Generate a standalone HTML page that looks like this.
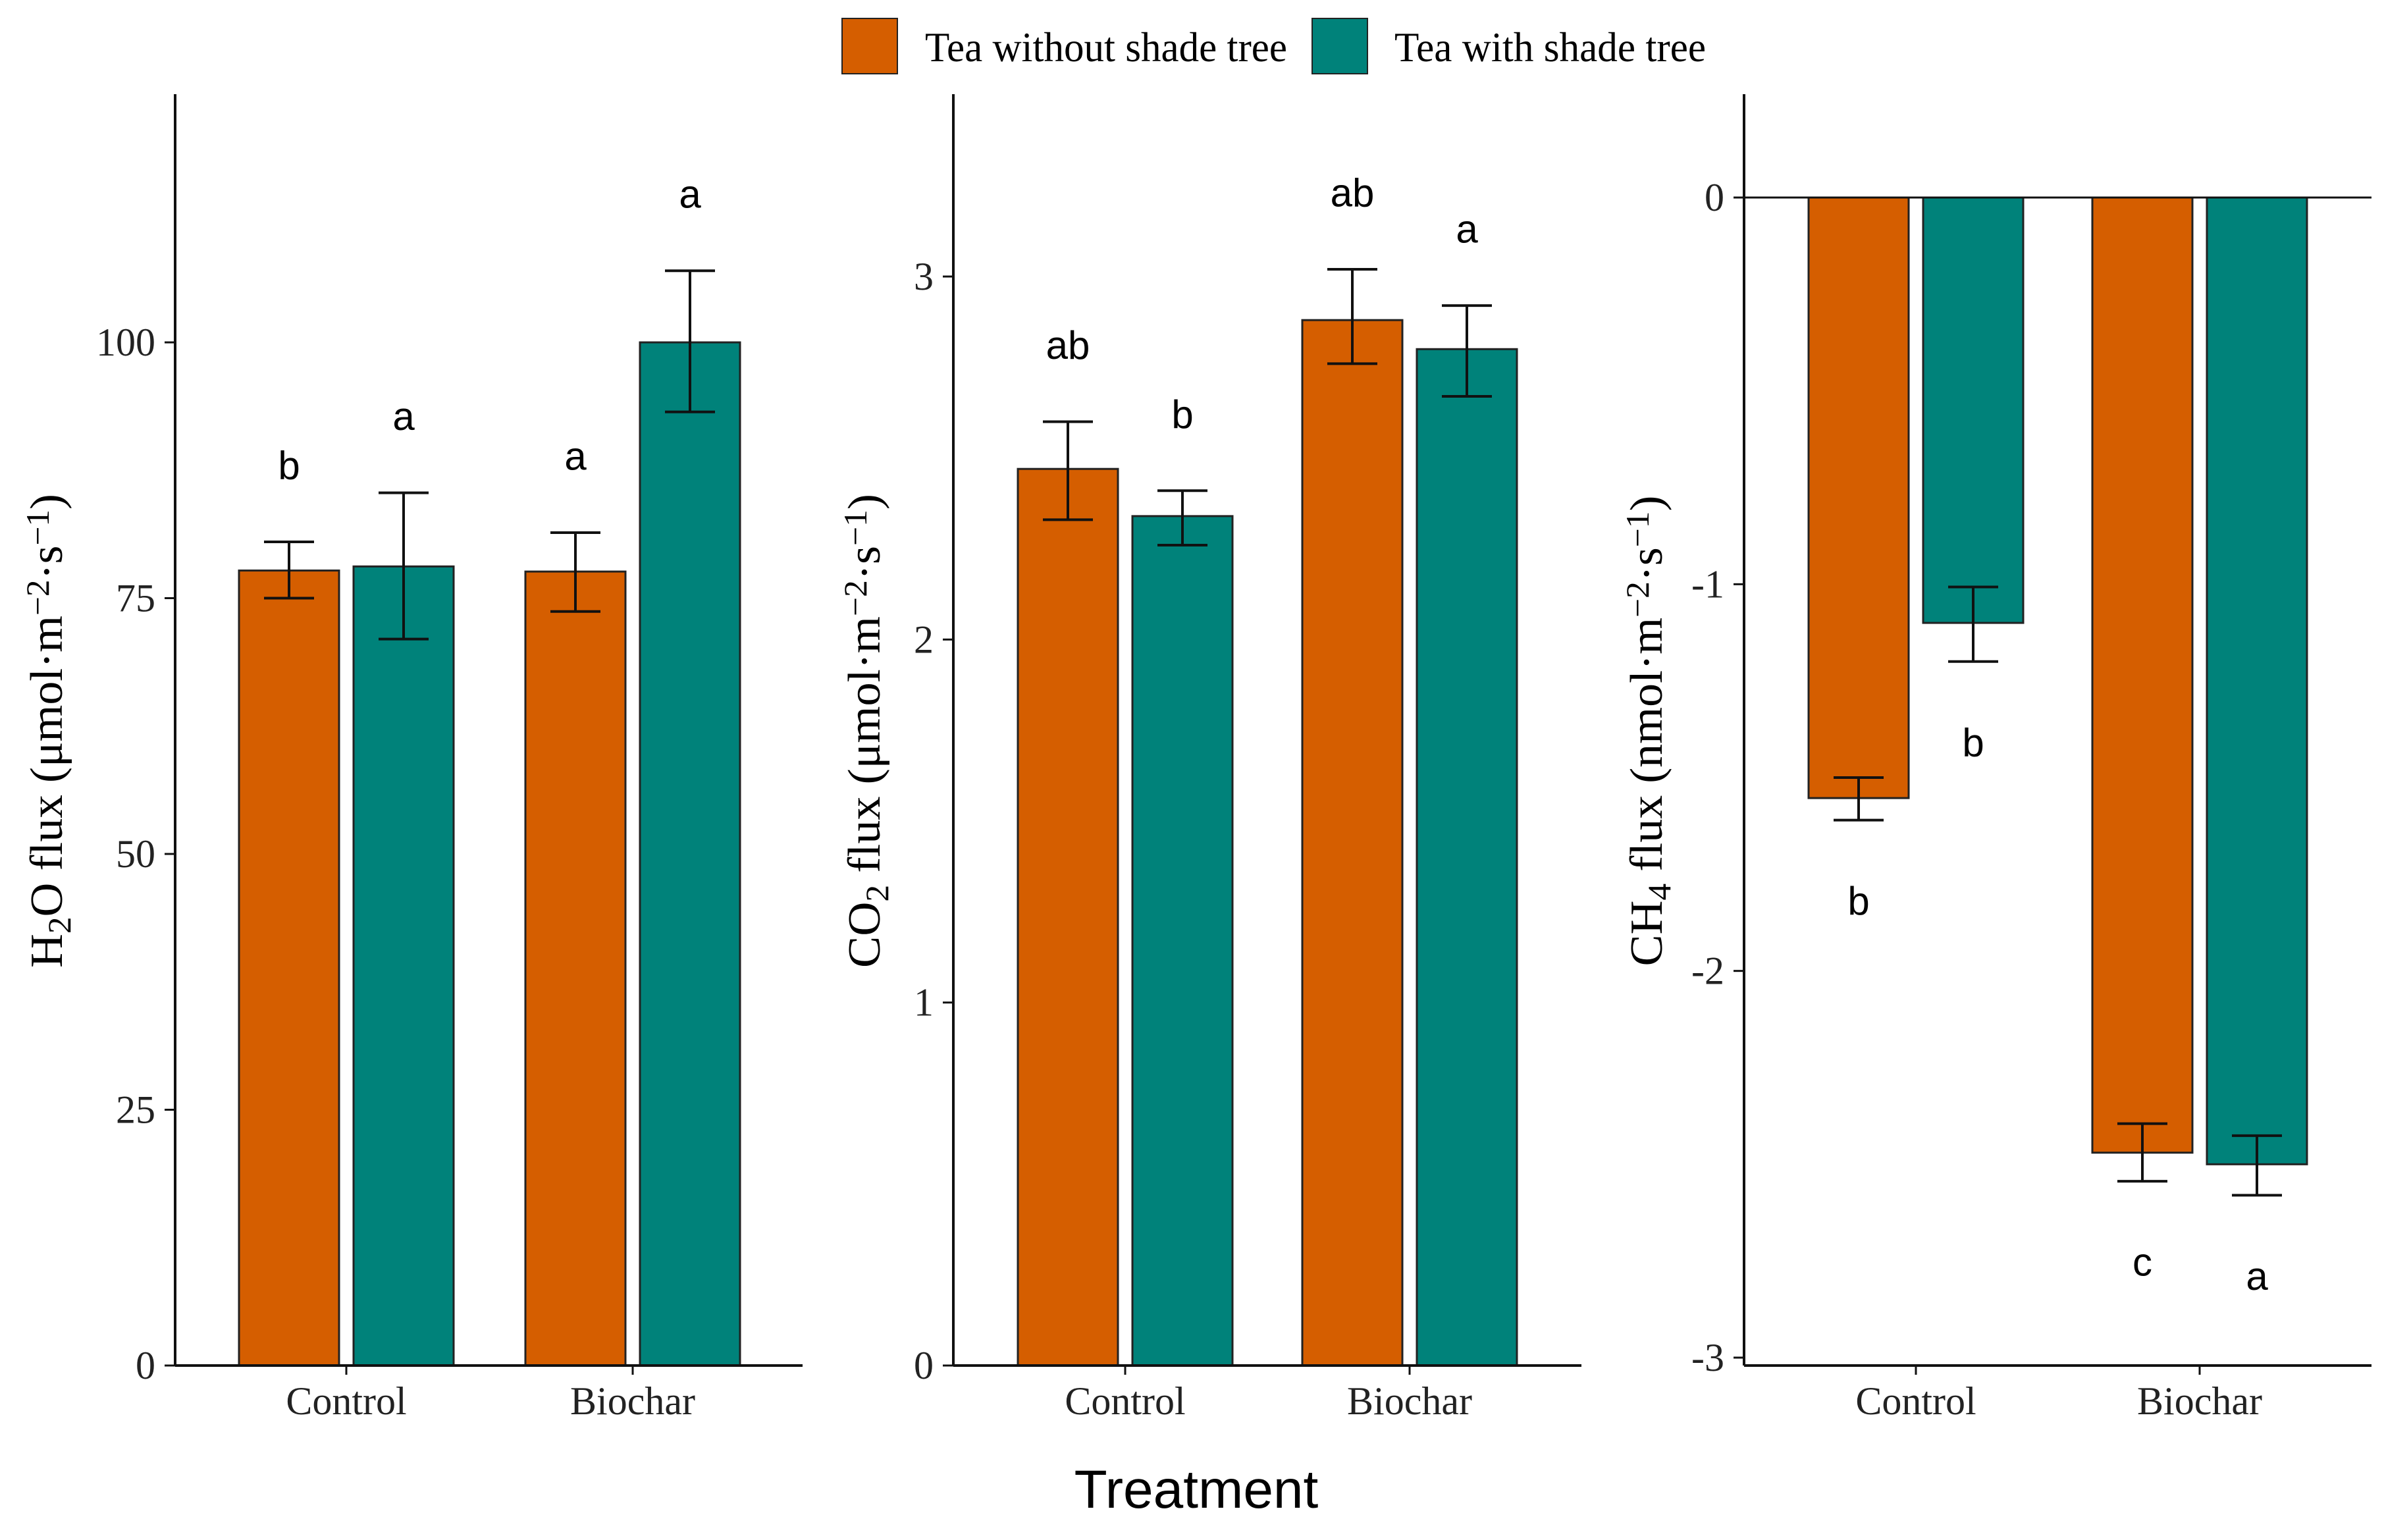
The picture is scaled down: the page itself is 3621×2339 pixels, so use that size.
<!DOCTYPE html>
<html><head><meta charset="utf-8"><style>html,body{margin:0;padding:0;background:#fff}svg{display:block}</style></head>
<body>
<svg id="chart" width="3621" height="2339" viewBox="0 0 3621 2339" xmlns="http://www.w3.org/2000/svg">
<g id="legend">
<rect x="1279" y="28" width="84" height="84" fill="#D55E00" stroke="#222" stroke-width="2"/>
<text x="1405" y="93" font-family="Liberation Serif, serif" font-size="64" textLength="550" lengthAdjust="spacingAndGlyphs">Tea without shade tree</text>
<rect x="1993" y="28" width="84" height="84" fill="#00827A" stroke="#222" stroke-width="2"/>
<text x="2118" y="93" font-family="Liberation Serif, serif" font-size="64" textLength="473" lengthAdjust="spacingAndGlyphs">Tea with shade tree</text>
</g>
<text x="1817" y="2290" text-anchor="middle" font-family="Liberation Sans, sans-serif" font-size="82">Treatment</text>
</svg>
<script>
const categories = ["Control", "Biochar"];
const seriesNames = ["Tea without shade tree", "Tea with shade tree"];
const colors = ["#D55E00", "#00827A"];
// H2O flux
const h2oMean = [[77.7, 78.1], [77.6, 100.0]];
const h2oHi = [[80.5, 85.3], [81.4, 107.0]];
const h2oLo = [[75.0, 71.0], [73.7, 93.2]];
const h2oLetters = [["b", "a"], ["a", "a"]];
const h2oTicks = [0, 25, 50, 75, 100];
// CO2 flux
const co2Mean = [[2.47, 2.34], [2.88, 2.80]];
const co2Hi = [[2.60, 2.41], [3.02, 2.92]];
const co2Lo = [[2.33, 2.26], [2.76, 2.67]];
const co2Letters = [["ab", "b"], ["ab", "a"]];
const co2Ticks = [0, 1, 2, 3];
// CH4 flux
const ch4Mean = [[-1.553, -1.10], [-2.47, -2.50]];
const ch4Hi = [[-1.50, -1.007], [-2.395, -2.426]];
const ch4Lo = [[-1.61, -1.20], [-2.544, -2.58]];
const ch4Letters = [["b", "b"], ["c", "a"]];
const ch4Ticks = [0, -1, -2, -3];

const NS = "http://www.w3.org/2000/svg";
const svg = document.getElementById("chart");
function mk(tag, attrs, parent, text) {
  const e = document.createElementNS(NS, tag);
  for (const k in attrs) e.setAttribute(k, attrs[k]);
  if (text !== undefined) e.textContent = text;
  parent.appendChild(e);
  return e;
}

const panels = [
  {key:"h2o", mean:h2oMean, hi:h2oHi, lo:h2oLo, letters:h2oLetters, ticks:h2oTicks,
   ax:266, axEnd:1219, top:143, bottom:2074, v0:0, v1:100, y0:2074, y1:520, centers:[526,961],
   title:["H","2","O flux (μmol·m","−2","·s","−1",")"], titleX:70, titleLen:720, neg:false},
  {key:"co2", mean:co2Mean, hi:co2Hi, lo:co2Lo, letters:co2Letters, ticks:co2Ticks,
   ax:1448, axEnd:2402, top:143, bottom:2074, v0:0, v1:3, y0:2074, y1:420, centers:[1709,2141],
   title:["CO","2"," flux (μmol·m","−2","·s","−1",")"], titleX:1312, titleLen:720, neg:false},
  {key:"ch4", mean:ch4Mean, hi:ch4Hi, lo:ch4Lo, letters:ch4Letters, ticks:ch4Ticks,
   ax:2649, axEnd:3602, top:143, bottom:2074, v0:0, v1:-3, y0:300, y1:2062, centers:[2910,3341],
   title:["CH","4"," flux (nmol·m","−2","·s","−1",")"], titleX:2500, titleLen:715, neg:true}
];
const barW = 152, gap = 22;

panels.forEach(p => {
  const g = mk("g", {}, svg);
  
  
  const y = v => p.y0 + (v - p.v0) * (p.y1 - p.y0) / (p.v1 - p.v0);
  const letterOff = p.neg ? 123 : -116;
  categories.forEach((c, ci) => {
    seriesNames.forEach((s, si) => {
      const cx = p.centers[ci] + (si === 0 ? -(gap/2 + barW/2) : (gap/2 + barW/2));
      const yv = y(p.mean[ci][si]), yz = y(0);
      const r = mk("rect", {x:cx - barW/2, y:Math.min(yv,yz), width:barW, height:Math.abs(yv-yz),
        fill:colors[si], stroke:"#222", "stroke-width":3}, g);
      
      
      const eg = mk("g", {stroke:"#111", "stroke-width":4, fill:"none"}, g);
      
      
      const yh = y(p.hi[ci][si]), yl = y(p.lo[ci][si]);
      mk("line", {x1:cx, x2:cx, y1:yh, y2:yl}, eg);
      mk("line", {x1:cx-38, x2:cx+38, y1:yh, y2:yh}, eg);
      mk("line", {x1:cx-38, x2:cx+38, y1:yl, y2:yl}, eg);
      const anchorY = p.neg ? Math.max(yh, yl) : Math.min(yh, yl);
      const t = mk("text", {x:cx, y:anchorY + letterOff, "text-anchor":"middle", "dominant-baseline":"central",
        "font-family":"Liberation Sans, sans-serif", "font-size":60}, g, p.letters[ci][si]);
      
      
    });
  });
  const ya = mk("line", {x1:p.ax, x2:p.ax, y1:p.top, y2:p.bottom, stroke:"#111", "stroke-width":4}, g);
  
  
  const xa = mk("line", {x1:p.ax, x2:p.axEnd, y1:p.bottom, y2:p.bottom, stroke:"#111", "stroke-width":4}, g);
  
  
  if (p.neg) {
    const zl = mk("line", {x1:p.ax, x2:p.axEnd, y1:y(0), y2:y(0), stroke:"#111", "stroke-width":3}, g);
    
    
  }
  p.ticks.forEach(tv => {
    const ty = y(tv);
    mk("line", {x1:p.ax-16, x2:p.ax, y1:ty, y2:ty, stroke:"#111", "stroke-width":3}, g);
    const tl = mk("text", {x:p.ax-30, y:ty, "text-anchor":"end", "dominant-baseline":"central",
      "font-family":"Liberation Serif, serif", "font-size":60, fill:"#222"}, g, String(tv));
    
    
  });
  categories.forEach((c, ci) => {
    mk("line", {x1:p.centers[ci], x2:p.centers[ci], y1:p.bottom, y2:p.bottom+14, stroke:"#111", "stroke-width":3}, g);
    const xl = mk("text", {x:p.centers[ci], y:2148, "text-anchor":"middle",
      "font-family":"Liberation Serif, serif", "font-size":60, fill:"#222"}, g, c);
    
    
  });
  const tt = mk("text", {transform:"translate(" + (p.titleX + 24) + ",1110) rotate(-90)", "text-anchor":"middle",
    "font-family":"Liberation Serif, serif", "font-size":70, textLength:p.titleLen, lengthAdjust:"spacingAndGlyphs"}, g);
  
  
  p.title.forEach((s, i) => {
    const isSub = (i === 1);
    const isSup = (i === 3 || i === 5);
    const a = {};
    if (isSub) { a["baseline-shift"] = "-25%"; a["font-size"] = 50; }
    if (isSup) { a["baseline-shift"] = "40%"; a["font-size"] = 50; }
    mk("tspan", a, tt, s);
  });
});
</script>
</body></html>
